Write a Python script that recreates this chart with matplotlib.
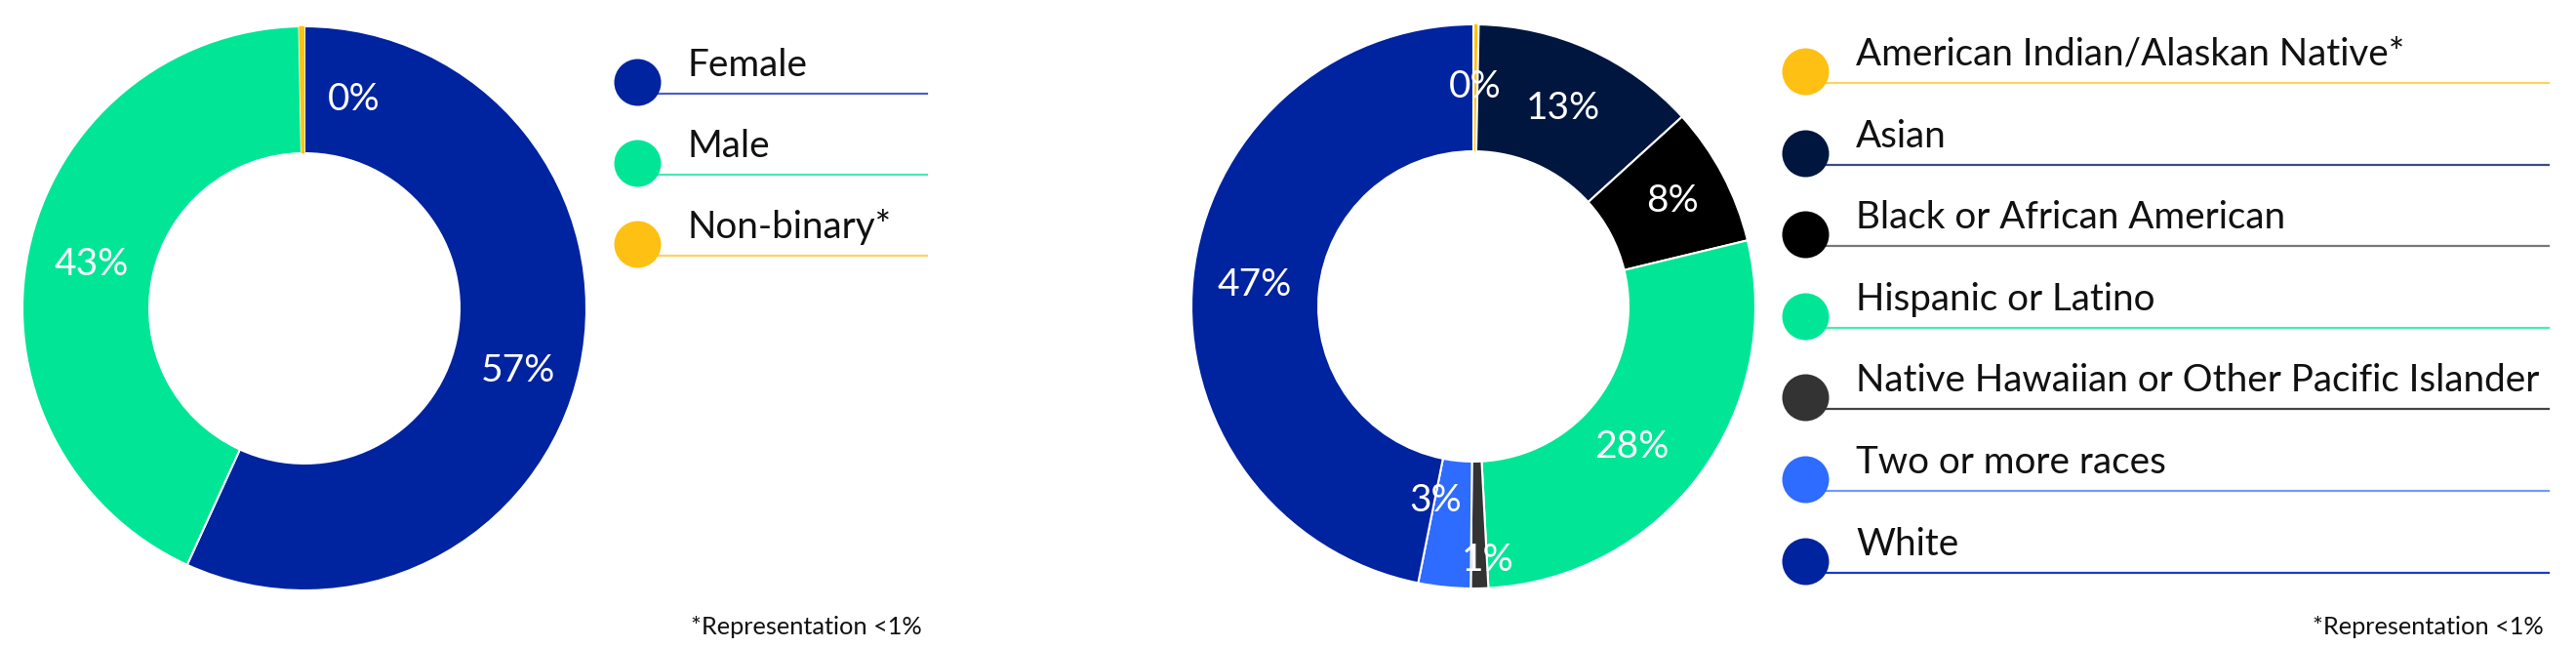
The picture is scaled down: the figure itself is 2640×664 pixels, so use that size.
import matplotlib.pyplot as plt
import numpy as np

plt.rcParams['font.family'] = ['Lato', 'DejaVu Sans']

W, H = 2640, 664
R = 289  # outer radius of both donuts, px

gender_labels = ['Female', 'Male', 'Non-binary*']
gender_values = [57, 43, 0.3]
gender_pct = ['57%', '43%', '0%']

race_labels = ['American Indian/Alaskan Native*', 'Asian',
               'Black or African American', 'Hispanic or Latino',
               'Native Hawaiian or Other Pacific Islander',
               'Two or more races', 'White']
race_values = [0.3, 13, 8, 28, 1, 3, 47]
race_pct = ['0%', '13%', '8%', '28%', '1%', '3%', '47%']

gender_colors = ['#0023A0', '#00E696', '#FFC014']
gender_lines = ['#4A62CC', '#45EDB0', '#FFD45C']
race_colors = ['#FFC014', '#00163F', '#000000', '#00E696',
               '#333333', '#2E6BFF', '#0023A0']
race_lines = ['#FFD45C', '#3B4F7E', '#777777', '#45EDB0',
              '#444444', '#6F9BFF', '#1A3CCC']

fig = plt.figure(figsize=(W / 100, H / 100), dpi=100)


def donut(cx, cy, values, pct, colors, dist, turn):
    ax = fig.add_axes([(cx - R) / W, (H - cy - R) / H, 2 * R / W, 2 * R / H])
    wedges, _ = ax.pie(values, colors=colors, startangle=90, counterclock=False,
                       wedgeprops=dict(width=0.45, edgecolor='white', linewidth=1.5))
    for i, w in enumerate(wedges):
        if values[i] < 1:
            w.set_edgecolor(colors[i])
            w.set_linewidth(0.3)
        ang = np.deg2rad((w.theta1 + w.theta2) / 2 + turn[i])
        ax.text(dist[i] * np.cos(ang), dist[i] * np.sin(ang), pct[i],
                color='white', fontsize=28, ha='center', va='center')
    ax.set_xlim(-1, 1)
    ax.set_ylim(-1, 1)
    ax.axis('off')


donut(312, 316, gender_values, gender_pct, gender_colors,
      [0.79, 0.77, 0.76], [-4, 0, -14])
donut(1510, 314, race_values, race_pct, race_colors,
      [0.78, 0.77, 0.8, 0.75, 0.9, 0.7, 0.78], [0, 0, 0, -5, 2, -5, 0])

lax = fig.add_axes([0, 0, 1, 1])
lax.set_xlim(0, W)
lax.set_ylim(H, 0)
lax.axis('off')


def legend(x, y0, step, x_end, labels, colors, lines):
    for i, lab in enumerate(labels):
        y = y0 + i * step
        lax.plot([x, x_end], [y + 12, y + 12], color=lines[i], lw=1.6, zorder=1)
        lax.scatter([x], [y], s=1194, color=colors[i], linewidths=0, zorder=2)
        lax.text(x + 52, y - 6, lab, fontsize=27.8, color='#111111', va='baseline')


legend(653, 84, 83, 950, gender_labels, gender_colors, gender_lines)
legend(1850, 73, 83.6, 2612, race_labels, race_colors, race_lines)

lax.text(945, 643, '*Representation <1%', fontsize=18.3, color='#111111',
         ha='right', va='center')
lax.text(2607, 643, '*Representation <1%', fontsize=18.3, color='#111111',
         ha='right', va='center')

fig.savefig('out.png', dpi=100, facecolor='white')
